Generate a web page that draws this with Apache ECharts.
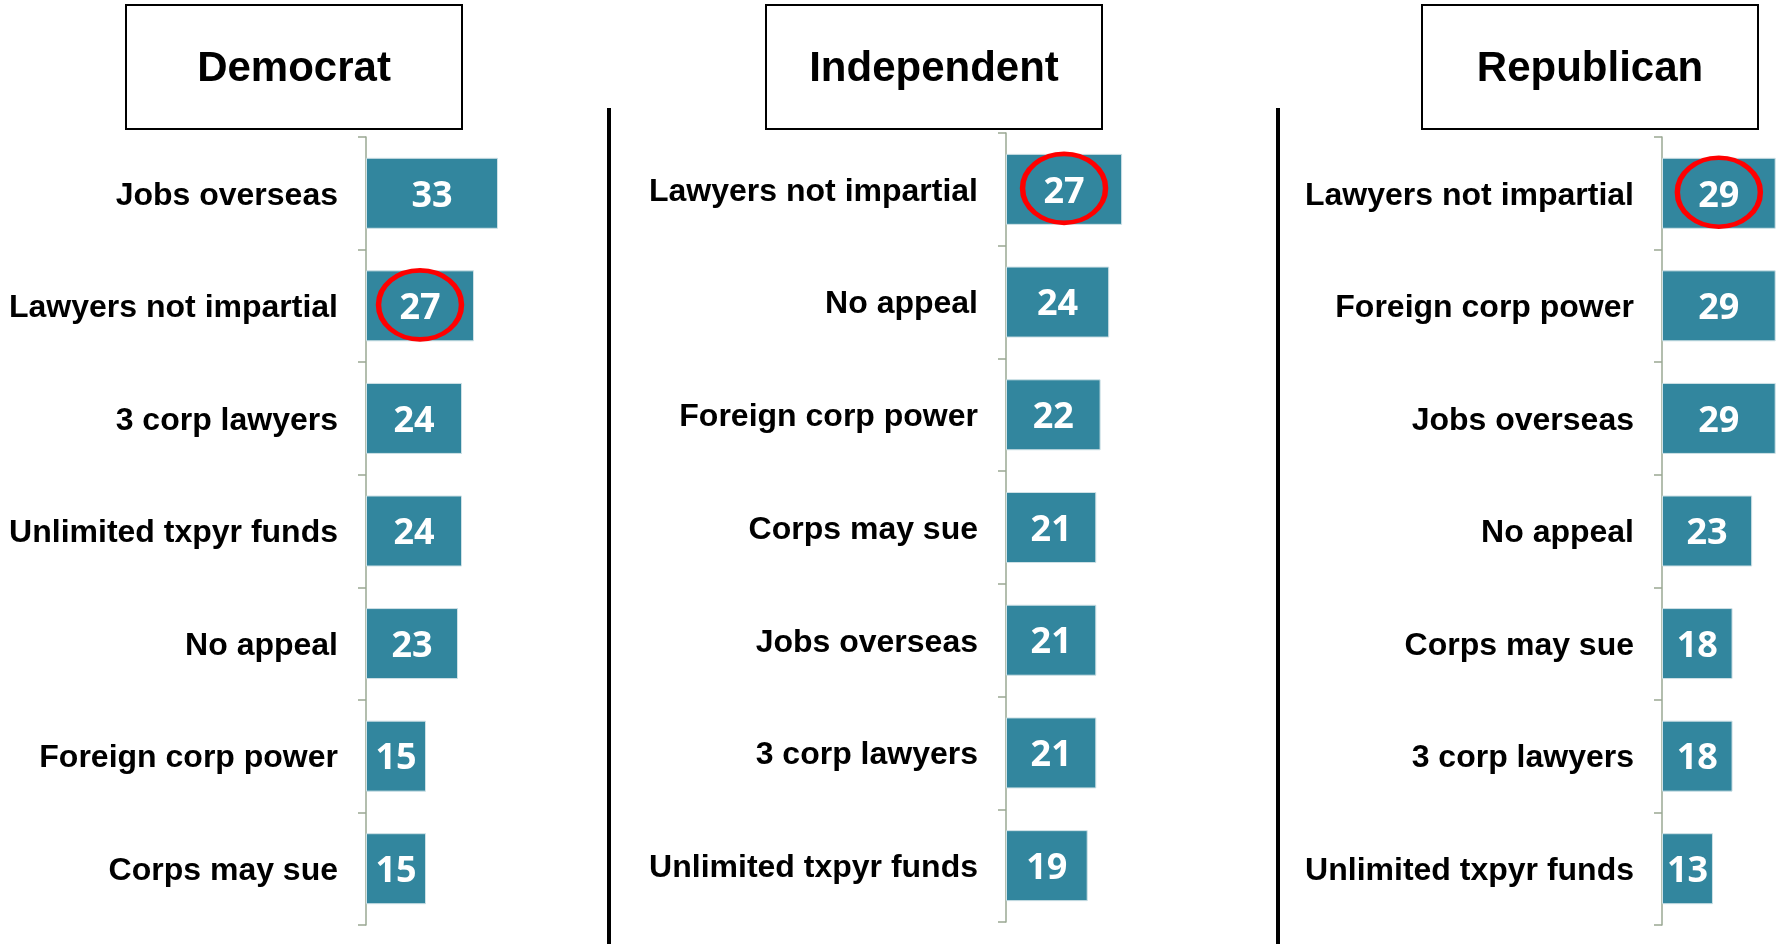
<!DOCTYPE html>
<html>
<head>
<meta charset="utf-8">
<title>Most persuasive arguments by party</title>
<script src="https://cdn.jsdelivr.net/npm/echarts@6/dist/echarts.min.js"></script>
<style>
  html, body { margin: 0; padding: 0; background: #ffffff; }
  #chart { width: 1781px; height: 944px; }
</style>
</head>
<body>
<div id="chart"></div>
<script>
// Party panel titles
const panelTitles = ['Democrat', 'Independent', 'Republican'];

// Democrat
const demCategories = ['Jobs overseas', 'Lawyers not impartial', '3 corp lawyers', 'Unlimited txpyr funds', 'No appeal', 'Foreign corp power', 'Corps may sue'];
const demValues = [33, 27, 24, 24, 23, 15, 15];

// Independent
const indCategories = ['Lawyers not impartial', 'No appeal', 'Foreign corp power', 'Corps may sue', 'Jobs overseas', '3 corp lawyers', 'Unlimited txpyr funds'];
const indValues = [27, 24, 22, 21, 21, 21, 19];

// Republican
const repCategories = ['Lawyers not impartial', 'Foreign corp power', 'Jobs overseas', 'No appeal', 'Corps may sue', '3 corp lawyers', 'Unlimited txpyr funds'];
const repValues = [29, 29, 29, 23, 18, 18, 13];

// Item circled in every panel
const circledCategory = 'Lawyers not impartial';

const BAR_COLOR = '#32869e';
const AXIS_COLOR = '#9aa893';
const RING_COLOR = '#ff0000';
const LABEL_FONT = '"Liberation Sans", Arial, sans-serif';
const VALUE_FONT = '"Open Sans", "Noto Sans", sans-serif';

const panels = [
  { cats: demCategories, vals: demValues, grid: { left: 366, top: 137, width: 160, height: 788 }, max: 40,
    box: { x: 125, y: 4, w: 336, h: 124 } },
  { cats: indCategories, vals: indValues, grid: { left: 1006, top: 133, width: 172, height: 789 }, max: 40,
    box: { x: 765, y: 4, w: 336, h: 124 } },
  { cats: repCategories, vals: repValues, grid: { left: 1662, top: 137, width: 117.6, height: 788 }, max: 30,
    box: { x: 1421, y: 4, w: 336, h: 124 } }
];

const grid = [], xAxis = [], yAxis = [], series = [], graphic = [];

panels.forEach((p, i) => {
  grid.push(Object.assign({ containLabel: false }, p.grid));
  xAxis.push({ type: 'value', gridIndex: i, min: 0, max: p.max, show: false });
  yAxis.push({
    type: 'category', gridIndex: i, data: p.cats, inverse: true,
    axisLine: { show: true, lineStyle: { color: AXIS_COLOR, width: 1.5 } },
    axisTick: { show: true, length: 8, lineStyle: { color: AXIS_COLOR, width: 1.5 } },
    axisLabel: {
      margin: 28,
      formatter: v => '{c|' + v + '}',
      rich: { c: { color: '#000', fontFamily: LABEL_FONT, fontWeight: 'bold', fontSize: 32,
                   lineHeight: 36, padding: [5, 0, 0, 0] } }
    },
    splitLine: { show: false }
  });
  series.push({
    type: 'bar', xAxisIndex: i, yAxisIndex: i, data: p.vals, barWidth: 71,
    itemStyle: { color: BAR_COLOR, borderColor: '#cfe1e6', borderWidth: 1 },
    label: { show: true, position: 'inside', offset: [0, 3], color: '#fff',
             fontFamily: VALUE_FONT, fontWeight: 'bold', fontSize: 36 },
    silent: true, animation: false
  });
  // Ring around the value of the circled item, centred on its bar
  const k = p.cats.indexOf(circledCategory);
  series.push({
    type: 'scatter', xAxisIndex: i, yAxisIndex: i,
    data: [[p.vals[k] / 2, circledCategory]],
    symbol: 'circle', symbolSize: [83, 69], symbolOffset: [0, -1],
    itemStyle: { color: 'rgba(0,0,0,0)', borderColor: RING_COLOR, borderWidth: 5, opacity: 1 },
    z: 5, silent: true, animation: false
  });
  // Title box
  graphic.push({
    type: 'group', left: p.box.x, top: p.box.y,
    children: [
      { type: 'rect', shape: { x: 0, y: 0, width: p.box.w, height: p.box.h },
        style: { fill: '#fff', stroke: '#000', lineWidth: 2 } },
      { type: 'text', x: p.box.w / 2, y: p.box.h / 2 + 2,
        style: { text: panelTitles[i], fill: '#000', font: 'bold 42px ' + LABEL_FONT,
                 textAlign: 'center', textVerticalAlign: 'middle' } }
    ]
  });
});

// Vertical dividers between panels
[609, 1278].forEach(x => {
  graphic.push({ type: 'line', shape: { x1: x, y1: 108, x2: x, y2: 944 },
    style: { stroke: '#000', lineWidth: 4 } });
});

const chart = echarts.init(document.getElementById('chart'), null, { renderer: 'canvas' });
chart.setOption({
  backgroundColor: '#ffffff',
  animation: false,
  grid, xAxis, yAxis, series, graphic
});
</script>
</body>
</html>
